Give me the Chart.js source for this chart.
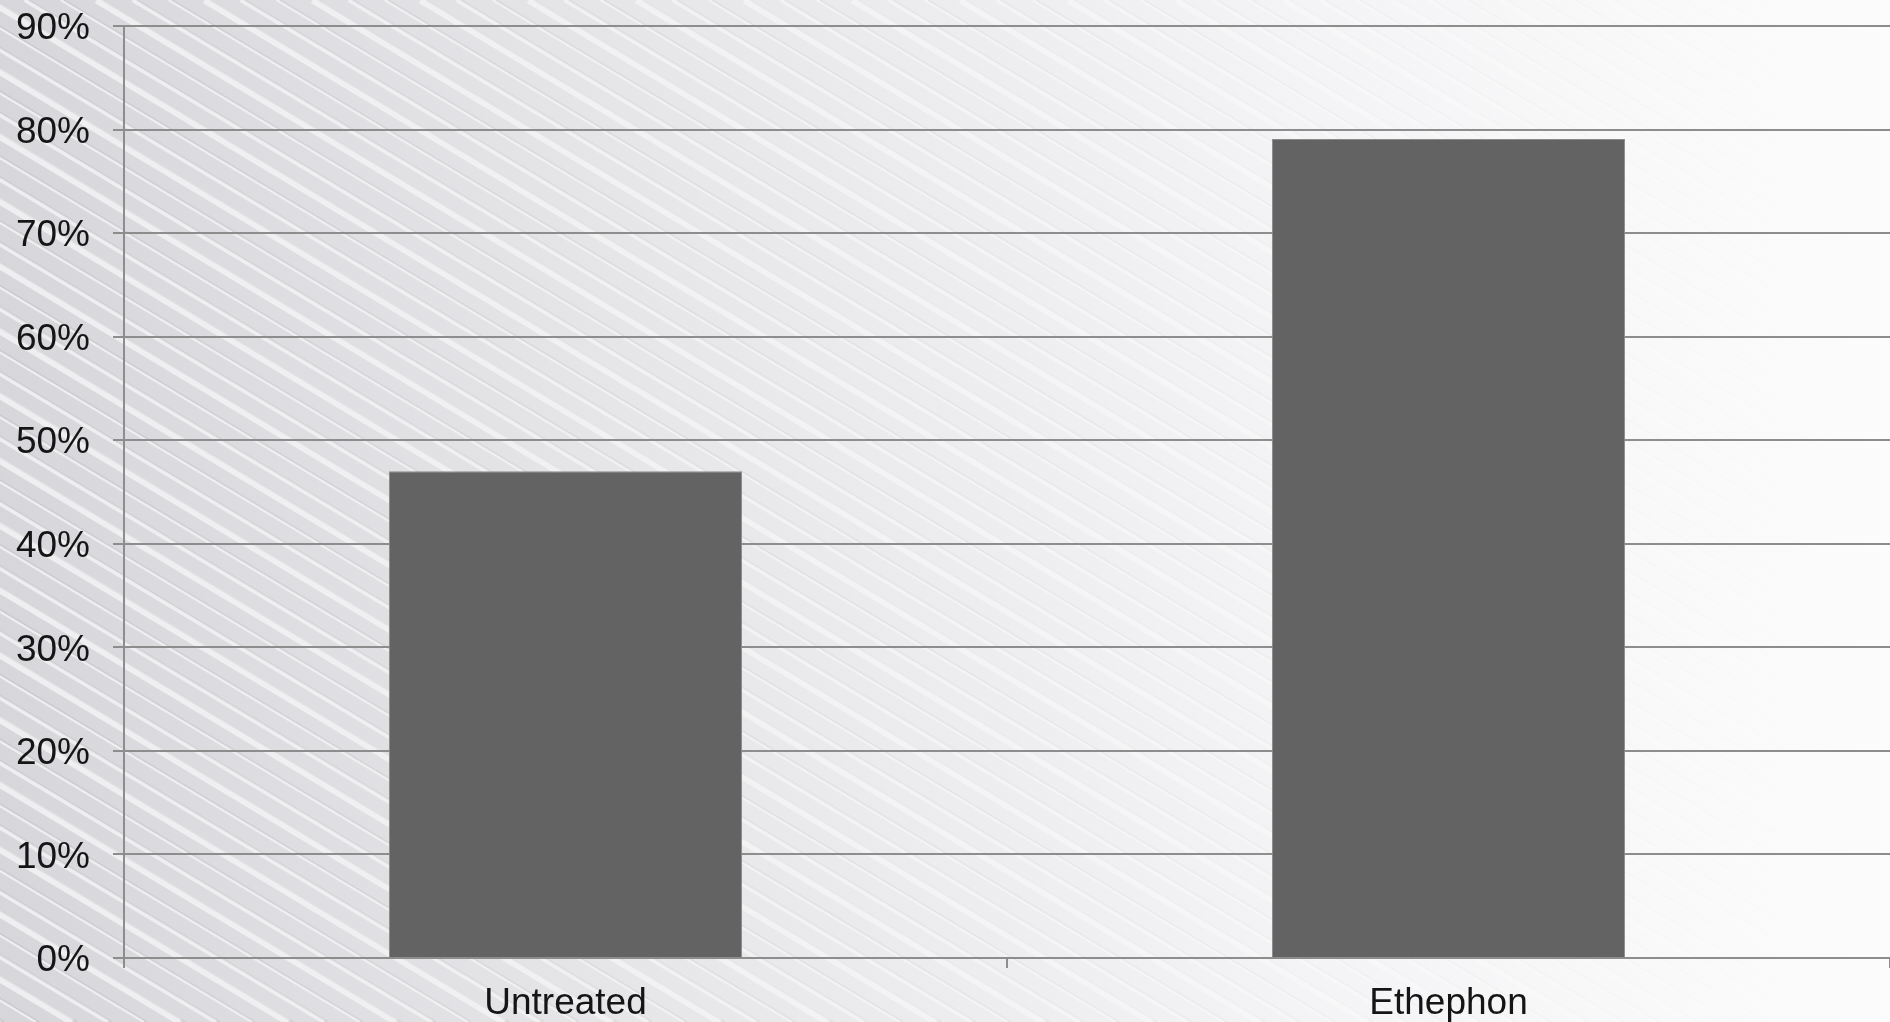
<!DOCTYPE html>
<html>
<head>
<meta charset="utf-8">
<script src="https://cdn.jsdelivr.net/npm/chart.js@4"></script>
<style>
  html, body { margin: 0; padding: 0; overflow: hidden; background: #fff; }
  #wrap { width: 1890px; height: 1022px; }
</style>
</head>
<body>
<div id="wrap"><canvas id="chart" width="1890" height="1022"></canvas></div>
<script>
const categories = ['Untreated', 'Ethephon'];
const values = [47.0, 79.1];
const yMin = 0;
const yMax = 90;
const yStep = 10;

const GRID = '#8d8d8d';
const BAR = '#636363';

// striped grey backdrop, fading to white on the right
const backdrop = {
    id: 'backdrop',
    beforeDraw(chart) {
        const c = chart.ctx;
        const W = chart.width, H = chart.height;
        c.save();
        let g = c.createLinearGradient(0, 0, W, 0);
        g.addColorStop(0, '#d7d7db');
        g.addColorStop(0.35, '#e7e7ea');
        g.addColorStop(0.7, '#f4f4f6');
        g.addColorStop(1, '#fcfcfc');
        c.fillStyle = g;
        c.fillRect(0, 0, W, H);

        const slope = 0.6;
        const run = H / slope;
        let hi = c.createLinearGradient(0, 0, W, 0);
        hi.addColorStop(0, 'rgba(255,255,255,0.6)');
        hi.addColorStop(0.6, 'rgba(255,255,255,0.35)');
        hi.addColorStop(1, 'rgba(255,255,255,0.05)');
        let lo = c.createLinearGradient(0, 0, W, 0);
        lo.addColorStop(0, 'rgba(110,110,120,0.12)');
        lo.addColorStop(0.6, 'rgba(110,110,120,0.05)');
        lo.addColorStop(1, 'rgba(110,110,120,0.0)');
        let k = 0;
        for (let x0 = -run; x0 < W + 60; x0 += 36) {
            k++;
            const w = (k % 3 === 0 ? 7 : (k % 3 === 1 ? 4 : 2.5));
            c.beginPath();
            c.moveTo(x0, 0);
            c.lineTo(x0 + run, H);
            c.strokeStyle = hi;
            c.lineWidth = w;
            c.stroke();
            c.beginPath();
            c.moveTo(x0 + w / 2 + 2, 0);
            c.lineTo(x0 + w / 2 + 2 + run, H);
            c.strokeStyle = lo;
            c.lineWidth = 2;
            c.stroke();
        }
        c.restore();
    }
};

const ctx = document.getElementById('chart').getContext('2d');

new Chart(ctx, {
    type: 'bar',
    data: {
        labels: categories,
        datasets: [{
            data: values,
            backgroundColor: BAR,
            borderColor: '#8a8a8a',
            borderWidth: 1,
            barPercentage: 0.4,
            categoryPercentage: 1.0
        }]
    },
    options: {
        responsive: false,
        animation: false,
        layout: { padding: { top: 26, right: 0, left: 0, bottom: 0 } },
        plugins: { legend: { display: false }, tooltip: { enabled: false } },
        scales: {
            x: {
                afterFit(scale) { scale.height = 64; },
                grid: { drawOnChartArea: false, drawTicks: true, tickLength: 10, color: GRID, lineWidth: 2 },
                border: { display: true, color: GRID, width: 2 },
                ticks: {
                    color: '#151515',
                    padding: 14,
                    font: { family: "'Liberation Sans', Arial, sans-serif", size: 37 }
                }
            },
            y: {
                min: yMin,
                max: yMax,
                afterFit(scale) {
                    scale.width = 124;
                    scale.paddingTop = 0;
                    scale.paddingBottom = 0;
                },
                grid: { color: GRID, lineWidth: 2, tickLength: 11 },
                border: { display: true, color: GRID, width: 2 },
                ticks: {
                    stepSize: yStep,
                    color: '#151515',
                    padding: 23,
                    labelOffset: 3,
                    font: { family: "'Liberation Sans', Arial, sans-serif", size: 37 },
                    callback: v => v + '%'
                }
            }
        }
    },
    plugins: [backdrop]
});
</script>
</body>
</html>
